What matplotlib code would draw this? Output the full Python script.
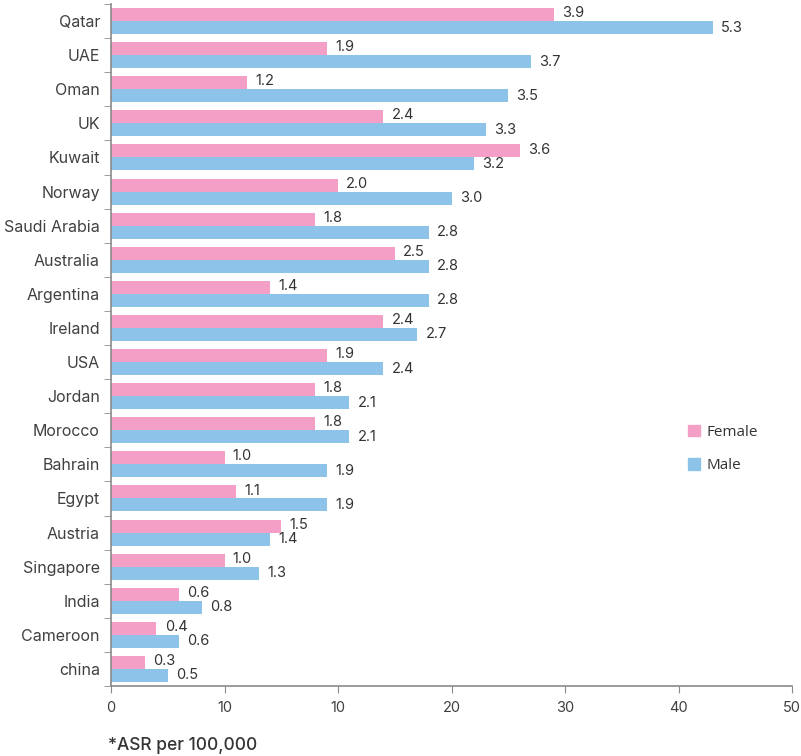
import matplotlib.pyplot as plt
from matplotlib.patches import Patch

countries = ['Qatar', 'UAE', 'Oman', 'UK', 'Kuwait', 'Norway', 'Saudi Arabia',
             'Australia', 'Argentina', 'Ireland', 'USA', 'Jordan', 'Morocco',
             'Bahrain', 'Egypt', 'Austria', 'Singapore', 'India', 'Cameroon', 'china']
female = [3.9, 1.9, 1.2, 2.4, 3.6, 2.0, 1.8, 2.5, 1.4, 2.4, 1.9, 1.8, 1.8,
          1.0, 1.1, 1.5, 1.0, 0.6, 0.4, 0.3]
male = [5.3, 3.7, 3.5, 3.3, 3.2, 3.0, 2.8, 2.8, 2.8, 2.7, 2.4, 2.1, 2.1,
        1.9, 1.9, 1.4, 1.3, 0.8, 0.6, 0.5]
x_tick_labels = ['0', '10', '10', '20', '30', '40', '50']

pink = '#F4A0C6'
blue = '#8DC3E9'
text_col = '#404040'
spine_col = '#8a8a8a'

plt.rcParams['font.family'] = ['Inter', 'DejaVu Sans']

fig = plt.figure(figsize=(8.01, 7.56), dpi=100)
ax = fig.add_axes([111 / 801, 70 / 756, 681 / 801, 682 / 756])

n = len(countries)
centers = [i + 0.5 for i in range(n)]
h = 0.38
ax.barh([c - h / 2 for c in centers], female, height=h, color=pink)
ax.barh([c + h / 2 for c in centers], male, height=h, color=blue)

for c, f, m in zip(centers, female, male):
    ax.annotate(f'{f:.1f}', (f, c - h / 2), xytext=(6, 1), textcoords='offset points',
                va='center', ha='left', fontsize=10.5, color='#333333')
    ax.annotate(f'{m:.1f}', (m, c + h / 2), xytext=(6, 0), textcoords='offset points',
                va='center', ha='left', fontsize=10.5, color='#333333')

ax.set_xlim(0, 6)
ax.set_ylim(n, 0)
ax.set_xticks(range(7))
ax.set_xticklabels(x_tick_labels)
ax.set_yticks(centers)
ax.set_yticklabels(countries)
ax.set_yticks(range(n + 1), minor=True)
ax.tick_params(axis='y', which='major', length=0, pad=8, labelsize=11.5, labelcolor=text_col)
ax.tick_params(axis='y', which='minor', length=5, color=spine_col, direction='out')
ax.tick_params(axis='x', length=5, color=spine_col, labelsize=10.5, labelcolor=text_col, pad=6)

for s in ['top', 'right']:
    ax.spines[s].set_visible(False)
for s in ['left', 'bottom']:
    ax.spines[s].set_color(spine_col)
    ax.spines[s].set_linewidth(1.2)

handles = [Patch(color=pink, label='Female'), Patch(color=blue, label='Male')]
fig.legend(handles=handles, loc='center left', bbox_to_anchor=(674 / 801, 1 - 449 / 756),
           frameon=False, handlelength=0.8, handleheight=0.8, handletextpad=0.4,
           labelspacing=1.2, prop={'family': 'Open Sans', 'size': 11}, labelcolor='#333333')

fig.text(108 / 801, 1 - 745 / 756, '*ASR per 100,000', fontsize=12.5, color='#333333',
         va='center', ha='left', fontweight='medium')

plt.savefig('out.png', dpi=100)
plt.close()
